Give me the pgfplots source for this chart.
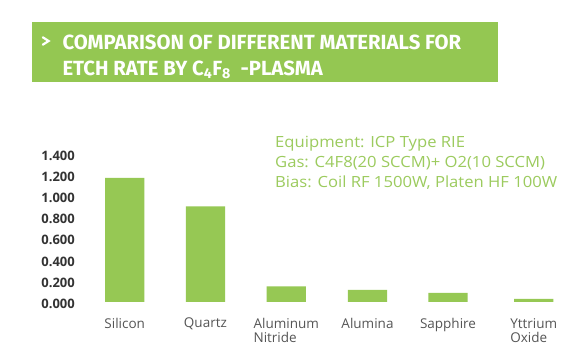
\documentclass[border=0pt]{standalone}
\usepackage{pgfplots}
\pgfplotsset{compat=1.18}
\usepackage{graphicx}
\usepackage{fontspec}
\setmainfont{Open Sans}
\newfontfamily\titlefont{Fira Sans}
\definecolor{barG}{HTML}{96C854}
\definecolor{boxG}{HTML}{94C752}
\definecolor{txtG}{HTML}{9CCB5E}
\definecolor{tickC}{HTML}{333333}
\definecolor{labC}{HTML}{555555}
\begin{document}
\begin{tikzpicture}[x=1pt,y=1pt]
\fill[white] (0,0) rectangle (584,-362);
% title box
\fill[boxG] (32,-22.3) rectangle (498,-82.3);
\draw[white, line width=2.2pt, line cap=round, line join=miter] (42.8,-37.3) -- (48.6,-41) -- (42.8,-44.7);
\node[anchor=base west, inner sep=0pt, text=white, font=\titlefont\bfseries\fontsize{20.5}{24}\selectfont] at (62.3,-49.3) {\scalebox{0.99}[1]{COMPARISON OF DIFFERENT MATERIALS FOR}};
\node[anchor=base west, inner sep=0pt, text=white, font=\titlefont\bfseries\fontsize{20.5}{24}\selectfont] at (62.3,-75.7) {\scalebox{0.99}[1]{ETCH RATE BY C\textsubscript{4}F\textsubscript{8}\ \ -PLASMA}};
% annotation
\node[anchor=base west, inner sep=0pt, text=txtG, font=\fontsize{15.4}{18}\selectfont] at (275,-147) {\scalebox{1.08}[1]{Equipment: ICP Type RIE}};
\node[anchor=base west, inner sep=0pt, text=txtG, font=\fontsize{15.4}{18}\selectfont] at (275,-167) {\scalebox{1.08}[1]{Gas: C4F8(20 SCCM)+ O2(10 SCCM)}};
\node[anchor=base west, inner sep=0pt, text=txtG, font=\fontsize{15.4}{18}\selectfont] at (275,-187) {\scalebox{1.08}[1]{Bias: Coil RF 1500W, Platen HF 100W}};
\begin{axis}[
  at={(90,-284.6)}, anchor=south west,
  scale only axis, width=480pt, height=148.54pt,
  xmin=90, xmax=570, ymin=0, ymax=1.4,
  axis line style={draw=none},
  major tick length=0pt,
  ytick={0,0.2,0.4,0.6,0.8,1.0,1.2,1.4},
  yticklabels={0.000,0.200,0.400,0.600,0.800,1.000,1.200,1.400},
  yticklabel style={anchor=east, inner sep=0pt, xshift=-15pt, yshift=-2pt, text=tickC, font=\bfseries\fontsize{13}{15}\selectfont},
  xtick={124.7,205.4,286.3,367.5,448,533.7},
  xticklabels={Silicon,Quartz,{Aluminum\\Nitride},Alumina,Sapphire,{Yttrium\\Oxide}},
  xticklabel style={anchor=north, inner sep=0pt, yshift=-16pt, align=left, text=labC, font=\fontsize{13.5}{14.5}\selectfont},
  clip=false,
]
\addplot[ybar, bar width=39.3pt, fill=barG, draw=none] coordinates {
 (124.7,1.169) (205.4,0.901) (286.3,0.147) (367.5,0.113) (448,0.085) (533.7,0.028)
};
\end{axis}
\pgfresetboundingbox
\path[use as bounding box] (0,0) rectangle (584,-362);
\end{tikzpicture}
\end{document}
